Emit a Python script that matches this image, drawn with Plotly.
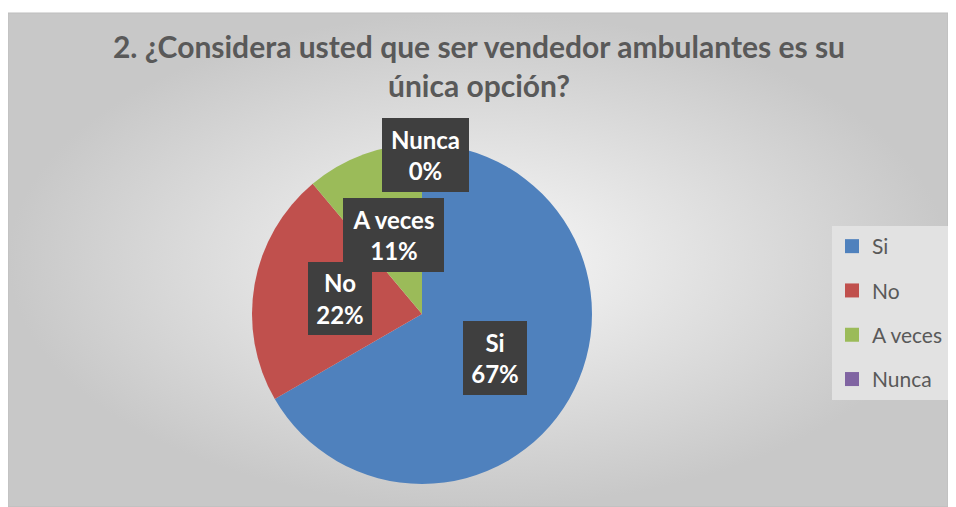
import plotly.graph_objects as go

# Survey answers (counts read as 6/9, 2/9, 1/9, 0/9 from the percentages)
labels = ["Si", "No", "A veces", "Nunca"]
counts = [6, 2, 1, 0]
colors = ["#4f81bd", "#c0504d", "#9bbb59", "#8064a2"]

TITLE = "2. ¿Considera usted que ser vendedor ambulantes es su<br>única opción?"

# the page body has an 8px margin, so the figure is drawn smaller
# and every pixel position below is shifted by OFF
OFF = 8
W, H = 956 - 2 * OFF, 507 - OFF
FONT = "Lato"

# where the dark data label boxes sit (pixel centre in the screenshot, box size)
label_boxes = {
    "Si": (495, 358, 64, 74),
    "No": (340, 298, 64, 73),
    "A veces": (393, 235, 101, 74),
    "Nunca": (425, 155, 87, 74),
}


def fx(px):
    return (px - OFF) / W


def fy(py):
    return 1 - (py - OFF) / H


fig = go.Figure()

# chart area background, radial grey gradient like the Excel style
fig.add_trace(go.Scatter(
    x=[0, W, W, 0, 0], y=[0, 0, H - (13 - OFF), H - (13 - OFF), 0],
    fill="toself", mode="lines",
    line=dict(color="#bdbdbd", width=1),
    fillgradient=dict(type="radial", colorscale=[[0, "#f8f8f8"], [1, "#c8c8c8"]]),
    hoverinfo="skip", showlegend=False,
))

# pie centred at (422, 314) with radius 170
cx, cy, r = 422, 314, 170
fig.add_trace(go.Pie(
    labels=labels, values=counts,
    sort=False, direction="clockwise", rotation=0,
    marker=dict(colors=colors, line=dict(width=0)),
    textinfo="none", hoverinfo="label+percent",
    showlegend=False,
    domain=dict(x=[fx(cx - r), fx(cx + r)], y=[fy(cy + r), fy(cy - r)]),
))

# legend entries
for lab, col in zip(labels, colors):
    fig.add_trace(go.Scatter(
        x=[None], y=[None], mode="markers", name=lab, legendgroup=lab,
        marker=dict(size=14, color=col, symbol="square"),
    ))

total = sum(counts)
for lab, val in zip(labels, counts):
    px_, py_, bw, bh = label_boxes[lab]
    pct = round(val / total * 100)
    fig.add_annotation(
        x=fx(px_), y=fy(py_), xref="paper", yref="paper",
        xanchor="center", yanchor="middle",
        text=f"{lab}<br>{pct}%", showarrow=False,
        font=dict(family=FONT, size=24, color="white", weight="bold"),
        bgcolor="#3f3f3f", borderwidth=0, borderpad=0,
        width=bw, height=bh, align="center",
    )

fig.update_layout(
    width=W, height=H,
    margin=dict(l=0, r=0, t=0, b=0),
    paper_bgcolor="white", plot_bgcolor="rgba(0,0,0,0)",
    xaxis=dict(range=[0, W], visible=False, fixedrange=True),
    yaxis=dict(range=[0, H], visible=False, fixedrange=True),
    title=dict(
        text=TITLE, x=fx(479), xanchor="center", y=1 - 50 / H, yanchor="top",
        font=dict(family=FONT, size=30, color="#595959", weight="bold"),
    ),
    legend=dict(
        x=fx(832), y=fy(226), xanchor="left", yanchor="top",
        bgcolor="#e2e2e2", traceorder="grouped", tracegroupgap=14,
        font=dict(family=FONT, size=21, color="#595959"),
    ),
    showlegend=True,
)

fig.write_html("out.html")
